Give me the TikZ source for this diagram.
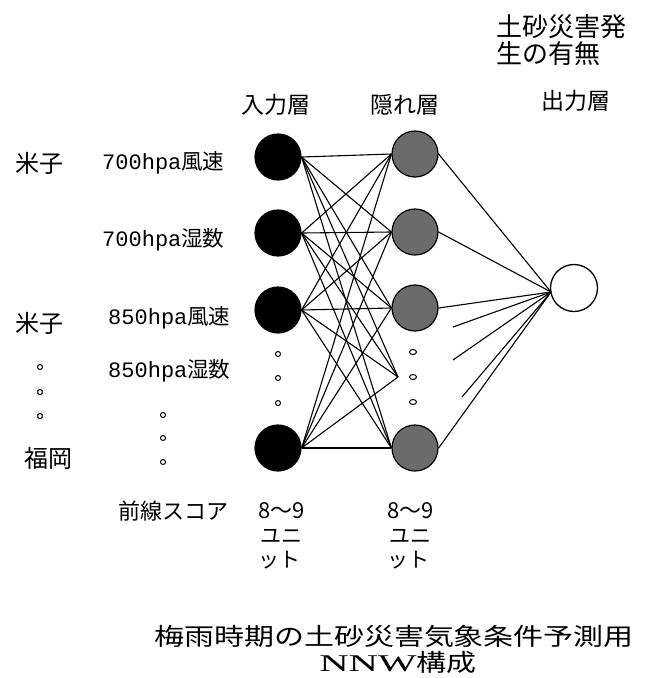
\documentclass[tikz,border=0pt]{standalone}
\usepackage{fontspec}
\usepackage{graphicx}
\usetikzlibrary{shapes.geometric}
\newfontfamily\jp{Noto Sans CJK JP}
\newfontfamily\lmono{Liberation Mono}
\newfontfamily\lserif{Liberation Serif}
\newcommand{\fsz}[1]{\fontsize{#1}{#1}\selectfont}
\begin{document}
\begin{tikzpicture}[x=1pt,y=-1pt,
  inunit/.style={circle,draw=black,fill=black,line width=1.2pt,minimum size=46pt,inner sep=0pt},
  hidunit/.style={circle,draw=black,fill=black!58,line width=1.2pt,minimum size=46pt,inner sep=0pt},
  outunit/.style={circle,draw=black,fill=white,line width=1.3pt,minimum size=47pt,inner sep=0pt},
  link/.style={line width=1.1pt},
  dotmark/.style={circle,draw=black,line width=1pt,minimum size=5pt,inner sep=0pt},
  hdot/.style={ellipse,draw=black,line width=1pt,minimum width=7pt,minimum height=5pt,inner sep=0pt},
  lbl/.style={inner sep=0pt,font=\jp\fsz{23}},
  var/.style={inner sep=0pt,anchor=west},
  unitlbl/.style={inner sep=0pt,anchor=west,font=\jp\fsz{21}}
]
\useasboundingbox (0,0) rectangle (653,678);

% units
\node[inunit] (I1) at (278,157) {};
\node[inunit] (I2) at (278,233) {};
\node[inunit] (I3) at (278,310) {};
\node[inunit] (I4) at (278,448) {};
\node[hidunit] (H1) at (415,154) {};
\node[hidunit] (H2) at (415,232) {};
\node[hidunit] (H3) at (415,308) {};
\node[hidunit] (H4) at (415,448) {};
\node[outunit] (O) at (574,288) {};
\coordinate (P) at (398,377);
\coordinate (Oc) at (551,292);
\coordinate (S1) at (453,327);
\coordinate (S2) at (453,360);
\coordinate (S3) at (462,397);

% input -> hidden
\foreach \i in {1,2,3,4}{
  \foreach \h in {1,2,3,4}{
    \draw[link] (I\i.east) -- (H\h.west);
  }
  \draw[link] (I\i.east) -- (P);
}
% hidden -> output
\foreach \h in {1,2,3,4}{
  \draw[link] (H\h.east) -- (Oc);
}
\draw[link] (S1) -- (Oc);
\draw[link] (S2) -- (Oc);
\draw[link] (S3) -- (Oc);

% dots
\node[dotmark] (id1) at (278,354) {};
\node[dotmark] (id2) at (278,378) {};
\node[dotmark] (id3) at (278,403) {};
\node[hdot] (hd1) at (413,352) {};
\node[hdot] (hd2) at (413,377) {};
\node[hdot] (hd3) at (413,402) {};
\node[dotmark] (ld1) at (40,367) {};
\node[dotmark] (ld2) at (40,392) {};
\node[dotmark] (ld3) at (40,416) {};
\node[dotmark] (md1) at (163,415) {};
\node[dotmark] (md2) at (163,438) {};
\node[dotmark] (md3) at (163,462) {};

% titles
\node[inner sep=0pt,anchor=west,font=\jp\fsz{26}] (t1) at (496,27) {土砂災害発};
\node[inner sep=0pt,anchor=west,font=\jp\fsz{26}] (t2) at (496,54) {生の有無};
\node[lbl] (L1) at (276,105) {入力層};
\node[lbl] (L2) at (405,105) {隠れ層};
\node[lbl] (L3) at (576,101) {出力層};

% left labels
\node[lbl,font=\jp\fsz{24}] (s1) at (40,163) {米子};
\node[lbl,font=\jp\fsz{24}] (s2) at (40,323) {米子};
\node[lbl,font=\jp\fsz{24}] (s3) at (48,458) {福岡};

\node[var] (v1) at (102,163) {{\lmono\fsz{22}700hpa}{\jp\fsz{21.5}風速}};
\node[var] (v2) at (102,240) {{\lmono\fsz{22}700hpa}{\jp\fsz{21.5}湿数}};
\node[var] (v3) at (108,318) {{\lmono\fsz{22}850hpa}{\jp\fsz{21.5}風速}};
\node[var] (v4) at (108,371) {{\lmono\fsz{22}850hpa}{\jp\fsz{21.5}湿数}};
\node[var,font=\jp\fsz{22}] (v5) at (118,511) {前線スコア};

% unit counts
\node[unitlbl,font=\jp\fsz{22}] (a1) at (258,511) {8〜9};
\node[unitlbl] (a2) at (260,536) {ユニ};
\node[unitlbl] (a3) at (258,560) {ット};
\node[unitlbl,font=\jp\fsz{22}] (b1) at (387,511) {8〜9};
\node[unitlbl] (b2) at (389,536) {ユニ};
\node[unitlbl] (b3) at (387,560) {ット};

% caption
\node[inner sep=0pt] (c1) at (394,636) {\jp\fsz{24}\scalebox{1.25}[1]{梅雨時期の土砂災害気象条件予測用}};
\node[inner sep=0pt] (c2) at (398,662) {{\lserif\fsz{24}\scalebox{1.7}[1]{NNW}}{\jp\fsz{24}\scalebox{1.25}[1]{構成}}};
\end{tikzpicture}
\end{document}
